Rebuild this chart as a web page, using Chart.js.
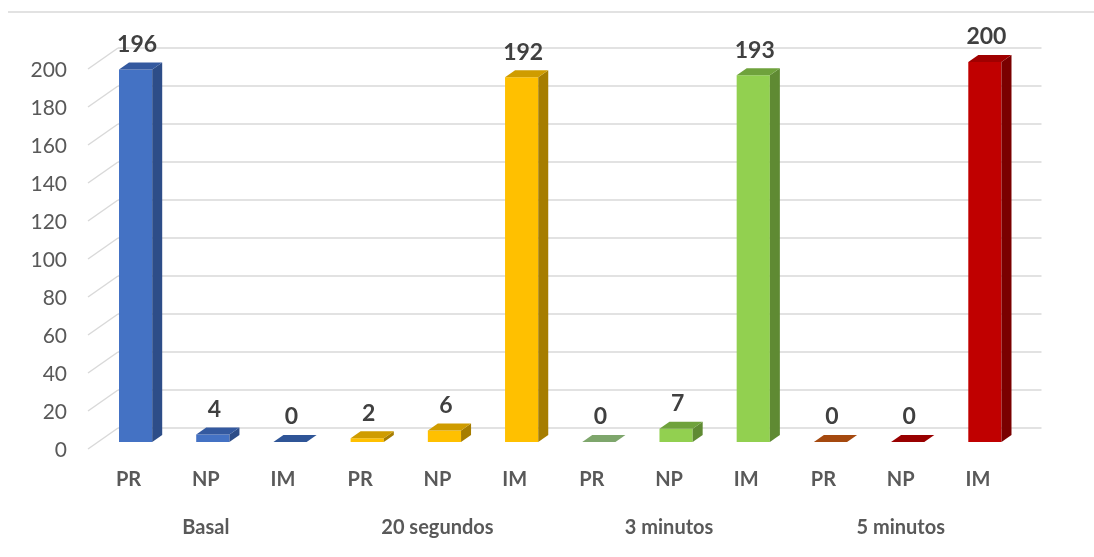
<!DOCTYPE html>
<html>
<head>
<meta charset="utf-8">
<script src="https://cdn.jsdelivr.net/npm/chart.js@4/dist/chart.umd.min.js"></script>
<style>
  html, body { margin: 0; padding: 0; background: #ffffff; }
  #wrap { width: 1094px; height: 557px; }
</style>
</head>
<body>
<div id="wrap"><canvas id="chart" width="1094" height="557"></canvas></div>
<script>
// Categories, groups and counts
const categories = ['PR', 'NP', 'IM', 'PR', 'NP', 'IM', 'PR', 'NP', 'IM', 'PR', 'NP', 'IM'];
const groups = ['Basal', '20 segundos', '3 minutos', '5 minutos'];
const values = [196, 4, 0, 2, 6, 192, 0, 7, 193, 0, 0, 200];

// Face colours of each bar: front, right side, top
const frontColors = ['#4472C4', '#4472C4', '#4472C4', '#FFC000', '#FFC000', '#FFC000',
                     '#92D050', '#92D050', '#92D050', '#C00000', '#C00000', '#C00000'];
const sideColors  = ['#2D4D88', '#2D4D88', '#2D4D88', '#A67D00', '#A67D00', '#A67D00',
                     '#5F8A33', '#5F8A33', '#5F8A33', '#7A0000', '#7A0000', '#7A0000'];
const topColors   = ['#34599F', '#34599F', '#2F5597', '#CF9C00', '#CF9C00', '#CF9C00',
                     '#7EA66C', '#6FA23C', '#6FA23C', '#A5490F', '#990000', '#A00000'];

const DEPTH_X = 10, DEPTH_Y = 7;
const GRID_DY = 14;
const TEXT_GRAY = '#595959';
const FONT = 'Lato, "Liberation Sans", sans-serif';

// Back-wall gridlines with the slanted floor edges, drawn behind the bars
const backWall = {
  id: 'backWall',
  beforeDatasetsDraw(chart) {
    const { ctx, scales: { x, y } } = chart;
    ctx.save();
    ctx.strokeStyle = '#d9d9d9';
    ctx.lineWidth = 1.5;
    // chart frame top edge
    ctx.beginPath();
    ctx.moveTo(8, 12);
    ctx.lineTo(chart.width, 12);
    ctx.stroke();
    y.ticks.forEach(t => {
      const py = y.getPixelForValue(t.value) - GRID_DY;
      const left = x.left + 21;
      ctx.beginPath();
      ctx.moveTo(left, py);
      ctx.lineTo(x.right + 18, py);
      ctx.stroke();
      ctx.beginPath();
      ctx.moveTo(left - 30, py + 21);
      ctx.lineTo(left, py);
      ctx.stroke();
    });
    ctx.restore();
  }
};

// Right side and top faces of the bars, plus value labels
const bars3d = {
  id: 'bars3d',
  afterDatasetsDraw(chart) {
    const { ctx } = chart;
    const meta = chart.getDatasetMeta(0);
    ctx.save();
    meta.data.forEach((bar, i) => {
      const half = bar.width / 2;
      const l = bar.x - half, r = bar.x + half;
      const top = bar.y, base = bar.base;
      if (base - top > 0.5) {
        ctx.fillStyle = sideColors[i];
        ctx.beginPath();
        ctx.moveTo(r, top);
        ctx.lineTo(r + DEPTH_X, top - DEPTH_Y);
        ctx.lineTo(r + DEPTH_X, base - DEPTH_Y);
        ctx.lineTo(r, base);
        ctx.closePath();
        ctx.fill();
      }
      ctx.fillStyle = topColors[i];
      ctx.beginPath();
      ctx.moveTo(l, top);
      ctx.lineTo(l + DEPTH_X, top - DEPTH_Y);
      ctx.lineTo(r + DEPTH_X, top - DEPTH_Y);
      ctx.lineTo(r, top);
      ctx.closePath();
      ctx.fill();
      ctx.fillStyle = '#404040';
      ctx.font = 'bold 23px ' + FONT;
      ctx.textAlign = 'center';
      ctx.textBaseline = 'middle';
      ctx.fillText(String(values[i]), bar.x + 1.5, top - 25);
    });
    ctx.restore();
  }
};

// Group names under each block of three categories
const groupLabels = {
  id: 'groupLabels',
  afterDraw(chart) {
    const { ctx, scales: { x } } = chart;
    ctx.save();
    ctx.fillStyle = TEXT_GRAY;
    ctx.font = 'bold 20px ' + FONT;
    ctx.textAlign = 'center';
    ctx.textBaseline = 'middle';
    groups.forEach((g, gi) => {
      ctx.fillText(g, x.getPixelForValue(gi * 3 + 1) - 7, 528);
    });
    ctx.restore();
  }
};

new Chart(document.getElementById('chart'), {
  type: 'bar',
  data: {
    labels: categories,
    datasets: [{
      data: values,
      backgroundColor: frontColors,
      borderWidth: 0,
      barPercentage: 0.43,
      categoryPercentage: 1
    }]
  },
  options: {
    responsive: false,
    devicePixelRatio: 1,
    animation: false,
    layout: { padding: { top: 62, right: 70.5, left: 0, bottom: 0 } },
    plugins: { legend: { display: false }, tooltip: { enabled: false } },
    scales: {
      x: {
        grid: { display: false, drawTicks: false },
        border: { display: false },
        ticks: {
          color: TEXT_GRAY,
          font: { family: FONT, size: 20, weight: 'bold' },
          padding: 26,
          labelOffset: -7,
          maxRotation: 0,
          minRotation: 0,
          autoSkip: false
        },
        afterFit(scale) { scale.height = 115; }
      },
      y: {
        min: 0,
        max: 200,
        grid: { display: false, drawTicks: false },
        border: { display: false },
        ticks: {
          stepSize: 20,
          color: TEXT_GRAY,
          font: { family: FONT, size: 21 },
          padding: 30,
          labelOffset: 8
        },
        afterFit(scale) { scale.width = 97; }
      }
    }
  },
  plugins: [backWall, bars3d, groupLabels]
});
</script>
</body>
</html>
